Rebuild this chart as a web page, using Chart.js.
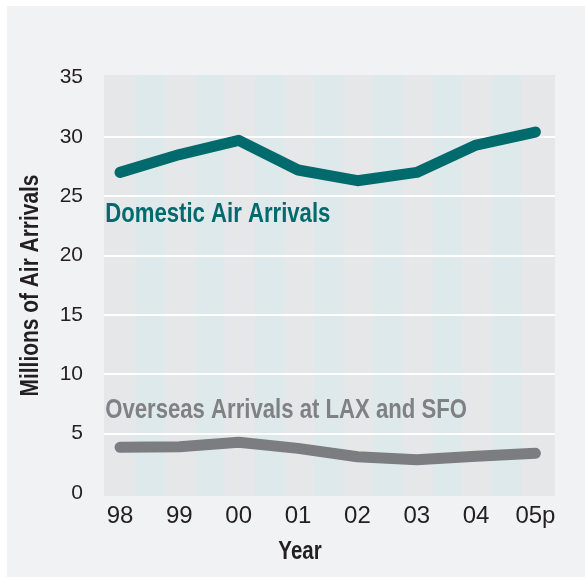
<!DOCTYPE html>
<html>
<head>
<meta charset="utf-8">
<script src="https://cdn.jsdelivr.net/npm/chart.js@4/dist/chart.umd.min.js"></script>
<style>
  html, body { margin: 0; padding: 0; background: #fff; }
  #wrap { position: absolute; left: 7px; top: 6px; width: 578px; height: 571px; background: #f1f2f4; }
  canvas { display: block; }
</style>
</head>
<body>
<div id="wrap"><canvas id="chart" width="578" height="571"></canvas></div>
<script>
const years = ["98", "99", "00", "01", "02", "03", "04", "05p"];
const domestic = [27.0, 28.5, 29.7, 27.2, 26.3, 27.0, 29.3, 30.4];
const overseas = [3.85, 3.9, 4.27, 3.76, 3.05, 2.8, 3.1, 3.35];
const yTicks = [0, 5, 10, 15, 20, 25, 30, 35];
const seriesNames = ["Domestic Air Arrivals", "Overseas Arrivals at LAX and SFO"];

const SANS = "'Liberation Sans', Arial, sans-serif";
const SQUEEZE = 0.82; // the original uses a condensed bold face
const TEAL = "#006a6d";
const GREY = "#7b7d80";
const INK = "#231f20";

function narrowText(ctx, text, x, y, rot) {
  ctx.save();
  ctx.translate(x, y);
  if (rot) ctx.rotate(rot);
  ctx.scale(SQUEEZE, 1);
  ctx.fillText(text, 0, 0);
  ctx.restore();
}

// light stripes between the years, plot background
const backdrop = {
  id: "backdrop",
  beforeDraw(chart) {
    const { ctx, chartArea: a, scales: { x } } = chart;
    ctx.save();
    ctx.fillStyle = "#e6e7e9";
    ctx.fillRect(a.left, a.top, a.right - a.left, a.bottom - a.top);
    ctx.fillStyle = "#dee9eb";
    for (let i = 0; i < years.length - 1; i++) {
      const x0 = x.getPixelForValue(i + 0.27);
      const x1 = x.getPixelForValue(i + 0.76);
      ctx.fillRect(x0, a.top, x1 - x0, a.bottom - a.top);
    }
    ctx.restore();
  }
};

// series names in the plot, axis titles
const notes = {
  id: "notes",
  afterDraw(chart) {
    const { ctx, chartArea: a, scales: { x, y } } = chart;
    ctx.save();
    ctx.textAlign = "left";
    ctx.textBaseline = "alphabetic";
    ctx.font = "bold 27px " + SANS;
    ctx.fillStyle = TEAL;
    narrowText(ctx, seriesNames[0], x.getPixelForValue(-0.25), y.getPixelForValue(22.85));
    ctx.fillStyle = "#7f8184";
    narrowText(ctx, seriesNames[1], x.getPixelForValue(-0.25), y.getPixelForValue(6.29));

    ctx.fillStyle = INK;
    ctx.textAlign = "center";
    ctx.font = "bold 25px " + SANS;
    narrowText(ctx, "Year", 293, 553);
    ctx.font = "bold 25.5px " + SANS;
    narrowText(ctx, "Millions of Air Arrivals", 31, (a.top + a.bottom) / 2, -Math.PI / 2);
    ctx.restore();
  }
};

new Chart(document.getElementById("chart"), {
  type: "line",
  data: {
    datasets: [
      {
        label: seriesNames[0],
        data: domestic.map((v, i) => ({ x: i, y: v })),
        borderColor: TEAL,
        borderWidth: 11,
        borderCapStyle: "round",
        borderJoinStyle: "round",
        pointRadius: 0,
        tension: 0
      },
      {
        label: seriesNames[1],
        data: overseas.map((v, i) => ({ x: i, y: v })),
        borderColor: GREY,
        borderWidth: 11,
        borderCapStyle: "round",
        borderJoinStyle: "round",
        pointRadius: 0,
        tension: 0
      }
    ]
  },
  options: {
    responsive: false,
    animation: false,
    devicePixelRatio: 1,
    layout: { padding: { top: 69, right: 30, bottom: 0, left: 0 } },
    plugins: {
      legend: { display: false },
      tooltip: { enabled: false }
    },
    scales: {
      x: {
        type: "linear",
        min: -0.27,
        max: 7.33,
        afterBuildTicks: (s) => { s.ticks = years.map((_, i) => ({ value: i })); },
        afterFit: (s) => { s.height = 81; },
        grid: { display: false, drawTicks: false },
        border: { display: false },
        ticks: {
          padding: 6,
          color: INK,
          font: { family: SANS, size: 24 },
          callback: (v) => years[v],
          maxRotation: 0,
          autoSkip: false
        }
      },
      y: {
        min: -0.25,
        max: 35.2,
        afterBuildTicks: (s) => { s.ticks = yTicks.map((v) => ({ value: v })); },
        afterFit: (s) => { s.width = 97; },
        grid: {
          drawTicks: false,
          lineWidth: 2,
          color: (c) => (c.tick && c.tick.value > 0 && c.tick.value < 35 ? "#ffffff" : "rgba(0,0,0,0)")
        },
        border: { display: false },
        ticks: {
          padding: 21,
          color: INK,
          font: { family: SANS, size: 21 }
        }
      }
    }
  },
  plugins: [backdrop, notes]
});
</script>
</body>
</html>
